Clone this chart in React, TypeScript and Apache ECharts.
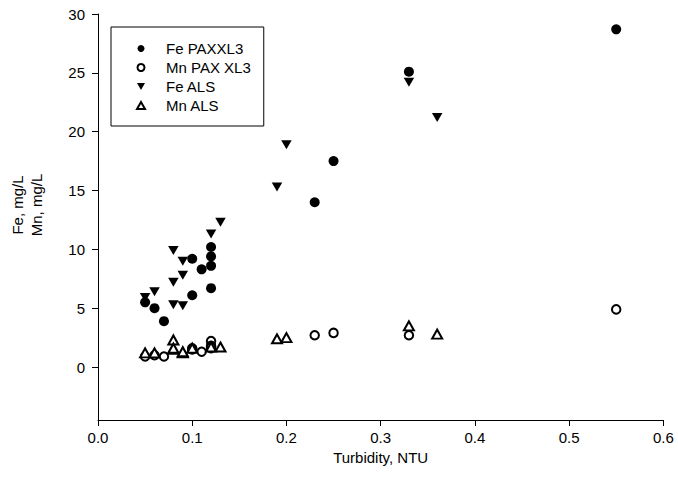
import React, { useEffect, useRef } from "react";
import * as echarts from "echarts";

const feLabel = "Fe PAXXL3";
const mnLabel = "Mn PAX XL3";
const feAlsLabel = "Fe ALS";
const mnAlsLabel = "Mn ALS";

const fePax: [number, number][] = [
  [0.05, 5.5], [0.06, 5.0], [0.07, 3.9], [0.10, 9.2], [0.10, 6.1], [0.11, 8.3],
  [0.12, 10.2], [0.12, 9.4], [0.12, 8.6], [0.12, 6.7], [0.23, 14.0], [0.25, 17.5],
  [0.33, 25.1], [0.55, 28.7],
];
const mnPax: [number, number][] = [
  [0.05, 0.9], [0.06, 1.0], [0.07, 0.9], [0.10, 1.6], [0.10, 1.5], [0.11, 1.3],
  [0.12, 2.2], [0.12, 1.8], [0.12, 1.6], [0.12, 1.7], [0.23, 2.7], [0.25, 2.9],
  [0.33, 2.7], [0.55, 4.9],
];
const feAls: [number, number][] = [
  [0.05, 5.9], [0.06, 6.4], [0.08, 9.9], [0.08, 7.2], [0.08, 5.3], [0.09, 9.0],
  [0.09, 7.8], [0.09, 5.2], [0.12, 11.3], [0.13, 12.3], [0.19, 15.3], [0.20, 18.9],
  [0.33, 24.2], [0.36, 21.2],
];
const mnAls: [number, number][] = [
  [0.05, 1.2], [0.06, 1.2], [0.08, 2.3], [0.08, 1.5], [0.08, 1.6], [0.09, 1.2],
  [0.09, 1.3], [0.10, 1.6], [0.12, 1.7], [0.13, 1.7], [0.19, 2.4], [0.20, 2.5],
  [0.33, 3.5], [0.36, 2.8],
];

const yTicks = [0, 5, 10, 15, 20, 25, 30];
const xTitle = "Turbidity, NTU";
const yTitle = "Fe, mg/L\nMn, mg/L";

const FONT = "'Liberation Sans', Arial, sans-serif";
const downTri = "path://M0,0L10,0L5,8.66Z";

export default function App() {
  const ref = useRef<HTMLDivElement>(null);
  useEffect(() => {
    if (!ref.current) return;
    const chart = echarts.init(ref.current, undefined, { renderer: "svg" });
    chart.setOption({
      animation: false,
      backgroundColor: "#fff",
      textStyle: { fontFamily: FONT },
      grid: { left: 96.5, right: 14.7, top: 14, bottom: 74 },
      legend: {
        orient: "vertical",
        left: 111,
        top: 27,
        padding: [14, 13, 13, 25],
        itemWidth: 8,
        itemHeight: 7,
        itemGap: 4,
        borderColor: "#000",
        borderWidth: 1,
        selectedMode: false,
        textStyle: { fontSize: 15, color: "#000", fontFamily: FONT, lineHeight: 15, padding: [0, 0, 0, 16] },
        data: [
          { name: feLabel, icon: "circle" },
          { name: mnLabel, icon: "emptyCircle" },
          { name: feAlsLabel, icon: downTri },
          { name: mnAlsLabel, icon: "emptyTriangle" },
        ],
      },
      xAxis: {
        type: "value",
        min: 0,
        max: 0.6,
        interval: 0.1,
        name: xTitle,
        nameLocation: "middle",
        nameGap: 26,
        nameTextStyle: { fontSize: 15, color: "#000", fontFamily: FONT },
        axisLine: { onZero: false, lineStyle: { color: "#000", width: 1 } },
        axisTick: { show: true, inside: false, length: 6, lineStyle: { color: "#000" } },
        axisLabel: {
          margin: 10,
          fontSize: 15,
          color: "#000",
          fontFamily: FONT,
          formatter: (v: number) => v.toFixed(1),
        },
        splitLine: { show: false },
      },
      yAxis: {
        type: "value",
        min: -4.5,
        max: 30,
        name: yTitle,
        nameLocation: "middle",
        nameGap: 52,
        nameRotate: 90,
        nameTextStyle: {
          fontSize: 15,
          color: "#000",
          fontFamily: FONT,
          lineHeight: 19,
          padding: [0, 0, 0, 24],
        },
        axisLine: { show: true, onZero: false, lineStyle: { color: "#000", width: 1 } },
        axisTick: { show: true, inside: false, length: 6, lineStyle: { color: "#000" }, customValues: yTicks },
        axisLabel: { margin: 13, fontSize: 15, color: "#000", fontFamily: FONT, customValues: yTicks },
        splitLine: { show: false },
      },
      series: [
        {
          name: feLabel,
          type: "scatter",
          data: fePax,
          symbol: "circle",
          symbolSize: 10,
          itemStyle: { color: "#000", opacity: 1 },
          z: 4,
        },
        {
          name: mnLabel,
          type: "scatter",
          data: mnPax,
          symbol: "emptyCircle",
          symbolSize: 8.5,
          itemStyle: { color: "#000", borderColor: "#000", borderWidth: 1.2, opacity: 1 },
          z: 3,
        },
        {
          name: feAlsLabel,
          type: "scatter",
          data: feAls,
          symbol: downTri,
          symbolSize: [10.5, 9],
          itemStyle: { color: "#000", opacity: 1 },
          z: 4,
        },
        {
          name: mnAlsLabel,
          type: "scatter",
          data: mnAls,
          symbol: "emptyTriangle",
          symbolSize: [10, 9],
          itemStyle: { color: "#000", borderColor: "#000", borderWidth: 1.2, opacity: 1 },
          z: 3,
        },
      ],
    });
    return () => chart.dispose();
  }, []);
  return (
    <div
      ref={ref}
      style={{ position: "fixed", left: 0, top: 0, width: 678, height: 494, background: "#fff" }}
    />
  );
}
